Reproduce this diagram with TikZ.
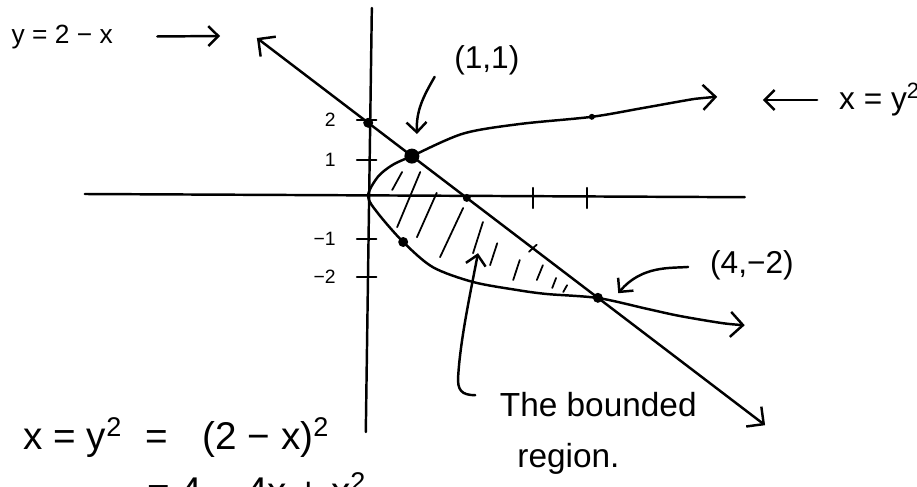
\documentclass[tikz,border=0pt]{standalone}
\usepackage{fontspec}
\setmainfont{Liberation Sans}
\usepackage{tikz}
\usetikzlibrary{arrows.meta,calc}
\tikzset{
  pen/.style={line width=1.4pt,line cap=round,line join=round},
  bothbarb/.style={pen,{Straight Barb[length=2.5mm,width=5mm]}-{Straight Barb[length=2.5mm,width=5mm]}},
  pointer/.style={pen,-{Straight Barb[length=2mm,width=4mm]}},
  hatch/.style={line width=1pt,line cap=round},
  spot/.style={circle,fill,inner sep=0pt,minimum size=#1},
  spot/.default=2mm,
  hand/.style={inner sep=1pt,font=\fontsize{#1}{#1}\selectfont},
  ticklbl/.style={inner sep=1pt,font=\fontsize{11}{13}\selectfont}
}

\begin{document}
\begin{tikzpicture}[x=1.1cm,y=0.8cm]
  \useasboundingbox (-6.691,-7.275) rectangle (9.982,4.9);
  % axes
  \draw[pen] (-5.15,0.05) -- (6.85,-0.03);
  \draw[pen] (0.07,4.7) -- (-0.04,-5.9);
  \foreach \y/\lab [count=\i] in {1.9/2,0.9/1,-1.08/−1,-2.03/−2} {
    \draw[pen] (-0.2,\y) -- (0.15,\y);
    \node[ticklbl,anchor=east] (ylab\i) at (-0.55,\y) {\lab};
  }
  \foreach \x in {3,3.98}
    \draw[pen] (\x,0.2) -- (\x,-0.3);
  % y = 2 - x
  \coordinate (lineA) at (-2.02,3.95);
  \coordinate (lineB) at (7.22,-5.73);
  \draw[bothbarb] (lineA) -- (lineB);
  % x = y^2
  \draw[bothbarb] plot[smooth] coordinates {(6.35,2.48) (5.95,2.43) (5.0,2.2) (4.07,1.98) (2.76,1.8)
    (1.73,1.56) (0.8,1.0) (0.45,0.78) (0.18,0.48) (0,0) (0.18,-0.43) (0.64,-1.15) (1.18,-1.78)
    (1.91,-2.15) (2.71,-2.35) (3.25,-2.45) (4.18,-2.55) (5.07,-2.82) (5.67,-3.0) (6.45,-3.18) (6.85,-3.23)};
  % points
  \node[spot] (p02) at ($(lineA)!0.219!(lineB)$) {};
  \node[spot=3mm] (p11) at ($(lineA)!0.305!(lineB)$) {};
  \node[spot=1.6mm] (p20) at ($(lineA)!0.413!(lineB)$) {};
  \node[spot] (p42) at ($(lineA)!0.671!(lineB)$) {};
  \node[spot] (p1m) at (0.64,-1.15) {};
  \node[spot=1.2mm] (p42up) at (4.07,1.98) {};
  \coordinate (p3m) at ($(lineA)!0.543!(lineB)$);
  \draw[hatch] (p3m) ++(-0.07,-0.09) -- ++(0.14,0.18);
  % hatching
  \foreach \xa/\ya/\xb/\yb in {0.44/0.15/0.62/0.6, 0.53/-0.78/0.95/0.6, 0.89/-1.03/1.25/0.08,
      1.31/-1.53/1.73/-0.3, 1.91/-1.43/2.09/-0.65, 2.22/-1.73/2.35/-1.18, 2.64/-2.1/2.76/-1.6,
      3.07/-2.1/3.18/-1.73, 3.35/-2.3/3.42/-2.05, 3.55/-2.4/3.62/-2.23}
    \draw[hatch] (\xa,\ya) -- (\xb,\yb);
  % labels
  \node[hand=15] (lblline) at (-5.56,3.98) {y = 2 − x};
  \coordinate (linetip) at (-2.69,4.0);
  \draw[pointer,shorten <=8.5mm] (lblline.east) -- (linetip);

  \node[hand=18] (lbl11) at (2.16,3.4) {(1,1)};
  \coordinate (tip11) at (0.89,1.55);
  \draw[pointer] ([xshift=-3.5mm]lbl11.south west) to[out=240,in=92] (tip11);

  \node[hand=18,anchor=west] (lblxy) at (8.53,2.4) {x = y\textsuperscript{2}};
  \coordinate (xytip) at (7.18,2.4);
  \draw[pointer,shorten <=4mm] (lblxy.west) -- (xytip);

  \node[hand=18] (lbl42) at (6.98,-1.73) {(4,−2)};
  \coordinate (tip42) at (4.55,-2.43);
  \draw[pointer,shorten <=4mm] (lbl42.west) to[out=185,in=50] (tip42);

  \node[inner sep=1pt,font=\fontsize{19}{29}\selectfont,align=left,anchor=north west] (lblregion)
    at (2.36,-4.85) {The bounded\\\hspace*{0.35cm}region.};
  \coordinate (hook) at (1.95,-4.98);
  \coordinate (regtip) at (2.0,-1.43);
  \draw[pointer] (hook) .. controls (1.7,-4.98) and (1.62,-4.85) .. (1.64,-4.5)
    .. controls (1.68,-3.6) and (1.85,-2.5) .. (regtip);
  % working
  \node[hand=22,anchor=west] (eqa) at (-6.3,-6.03)
    {x = y\textsuperscript{2}\hspace{0.6em}=\hspace{0.9em}(2 − x)\textsuperscript{2}};
  \node[hand=22,anchor=base west] (eqb) at (-4.05,-7.72) {= 4 − 4x + x\textsuperscript{2}};
\end{tikzpicture}
\end{document}
